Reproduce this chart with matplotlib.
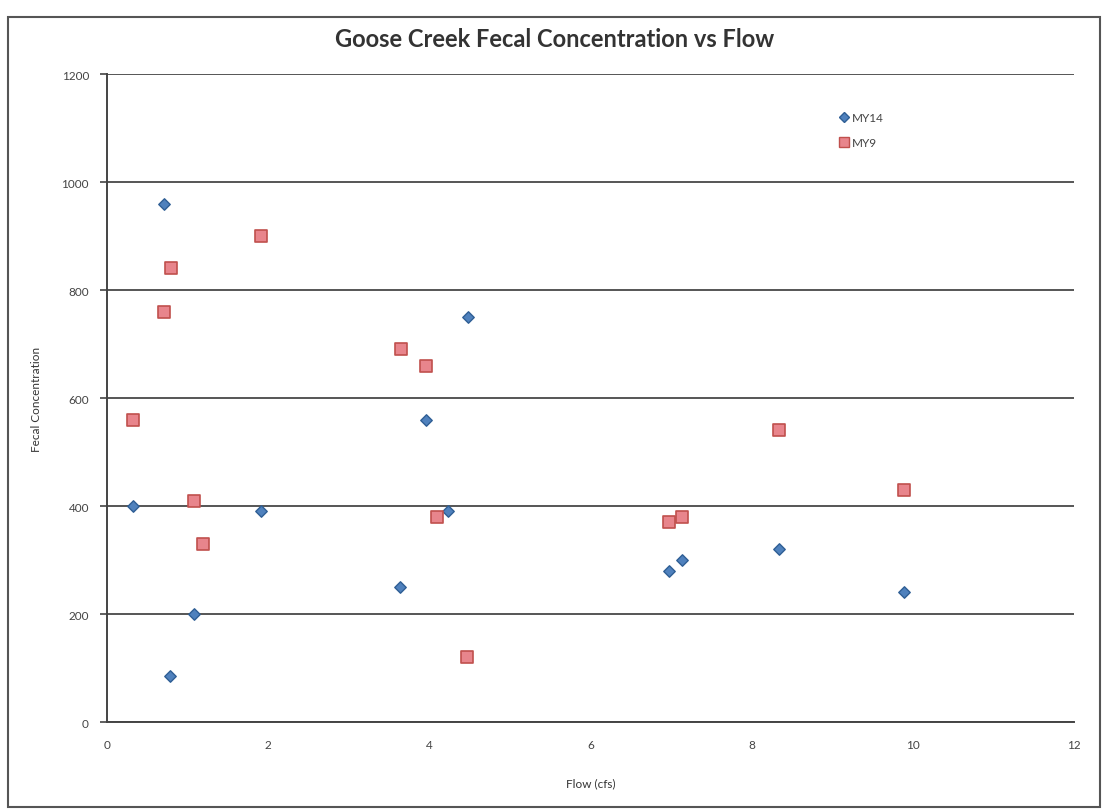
import matplotlib
matplotlib.use("Agg")
import matplotlib.pyplot as plt
from matplotlib.patches import Rectangle
from matplotlib.lines import Line2D

# Flow (cfs) vs fecal concentration
my14_flow = [0.32, 0.71, 0.78, 1.08, 1.91, 3.64, 3.96, 4.23, 4.48, 6.97, 7.14, 8.34, 9.89]
my14_fecal = [400, 960, 85, 200, 390, 250, 560, 390, 750, 280, 300, 320, 240]

my9_flow = [0.32, 0.71, 0.79, 1.08, 1.19, 1.91, 3.65, 3.96, 4.10, 4.47, 6.97, 7.14, 8.34, 9.89]
my9_fecal = [560, 760, 840, 410, 330, 900, 690, 660, 380, 120, 370, 380, 540, 430]

x_ticks = [0, 2, 4, 6, 8, 10, 12]
y_ticks = [0, 200, 400, 600, 800, 1000, 1200]

plt.rcParams["font.family"] = ["Lato", "DejaVu Sans"]

fig = plt.figure(figsize=(11.08, 8.12), dpi=100)
ax = fig.add_axes([0.0966, 0.1096, 0.8727, 0.798])

# chart area border
fig.patches.append(Rectangle((0.0072, 0.005), 0.986, 0.973, transform=fig.transFigure,
                             fill=False, edgecolor="#555555", linewidth=1.5))

ax.set_xlim(0, 12)
ax.set_ylim(0, 1200)
ax.set_xticks(x_ticks)
ax.set_yticks(y_ticks)
ax.grid(True, axis="y", color="#555555", linewidth=1.4)
ax.set_axisbelow(True)
for side in ["top", "right"]:
    ax.spines[side].set_visible(False)
for side in ["left", "bottom"]:
    ax.spines[side].set_color("#444444")
    ax.spines[side].set_linewidth(1.4)
ax.tick_params(axis="both", labelsize=8.5, colors="#444444", length=5, width=1.2, pad=8)
ax.tick_params(axis="x", length=0, pad=12)

ax.scatter(my14_flow, my14_fecal, marker="D", s=34, facecolor="#4f81bd",
           edgecolor="#2f5f95", linewidth=1.0, zorder=3, label="MY14")
ax.scatter(my9_flow, my9_fecal, marker="s", s=80, facecolor="#e8858c",
           edgecolor="#c0504d", linewidth=1.2, zorder=3, label="MY9")

ax.set_xlabel("Flow (cfs)", fontsize=8.5, color="#333333", labelpad=20)
ax.set_ylabel("Fecal Concentration", fontsize=8.5, color="#333333", labelpad=14)
fig.text(0.501, 0.951, "Goose Creek Fecal Concentration vs Flow", ha="center", va="center",
         fontsize=17, fontweight="bold", color="#333333")

handles = [
    Line2D([], [], marker="D", linestyle="none", markersize=5, markerfacecolor="#4f81bd",
           markeredgecolor="#2f5f95", label="MY14"),
    Line2D([], [], marker="s", linestyle="none", markersize=7, markerfacecolor="#e8858c",
           markeredgecolor="#c0504d", label="MY9"),
]
ax.legend(handles=handles, loc="upper left", bbox_to_anchor=(0.751, 0.95), frameon=False,
          fontsize=8.5, handlelength=0.8, handletextpad=0.3, labelspacing=1.2,
          borderpad=0, labelcolor="#444444")

fig.savefig("out.png", dpi=100)
